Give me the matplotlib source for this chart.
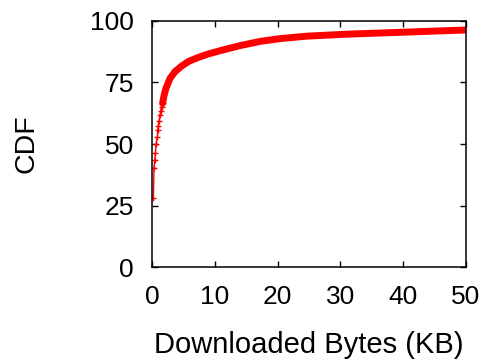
import matplotlib
matplotlib.use('Agg')
import matplotlib.pyplot as plt

plt.rcParams['font.family'] = ['Liberation Sans', 'DejaVu Sans']

# CDF of downloaded bytes per request (KB -> percent)
kb = [0.21, 0.32, 0.43, 0.53, 0.64, 0.85, 0.91, 1.0, 1.12, 1.28, 1.39, 1.52,
      1.68, 1.9, 2.2, 2.88, 3.67, 4.74, 5.8, 7.4, 9.0, 11.0, 14.1, 17.3,
      20.4, 24.7, 31.0, 36.7, 43.3, 50.0]
cdf = [27.9, 40.4, 43.5, 46.5, 49.9, 53.0, 55.7, 57.3, 59.5, 61.8, 63.5, 65.2,
       66.5, 69.5, 72.5, 76.7, 79.4, 81.7, 83.5, 85.2, 86.6, 88.0, 90.0, 91.7,
       92.8, 93.8, 94.6, 95.1, 95.7, 96.3]
xticks = [0, 10, 20, 30, 40, 50]
yticks = [0, 25, 50, 75, 100]

dense = 12  # past this point the samples pile up into a solid band

fig = plt.figure(figsize=(4.92, 3.6), dpi=100)
ax = fig.add_axes([0.309, 0.258, 0.638, 0.684])

ax.plot(kb[:dense + 1], cdf[:dense + 1], color='red', lw=1.0,
        marker='+', ms=5, mew=1.0)
ax.plot(kb[dense:], cdf[dense:], color='red', lw=5, solid_capstyle='round')

ax.set_xlim(0, 50)
ax.set_ylim(0, 100)
ax.set_xticks(xticks)
ax.set_yticks(yticks)
ax.tick_params(direction='in', length=4, width=1, labelsize=19,
               top=True, right=True, pad=13)
for s in ax.spines.values():
    s.set_linewidth(1.1)

ax.set_xlabel('Downloaded Bytes (KB)', fontsize=21)
ax.set_ylabel('CDF', fontsize=20.5)
ax.xaxis.set_label_coords(0.5, -0.26)
ax.yaxis.set_label_coords(-0.36, 0.5)

fig.savefig('out.png', dpi=100)
